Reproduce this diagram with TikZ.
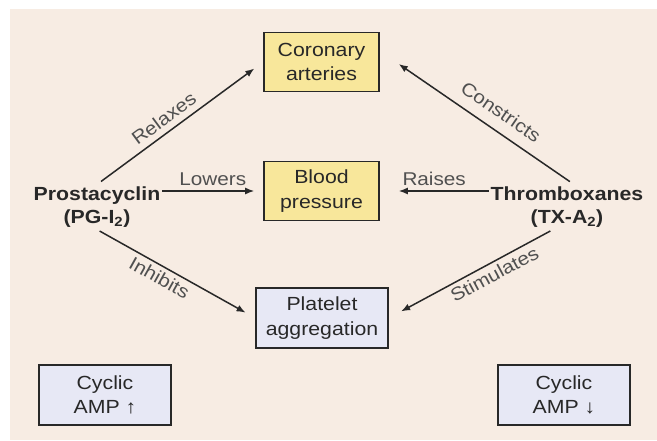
\documentclass[tikz,border=0pt]{standalone}
\usepackage{fontspec}
\setmainfont{Liberation Sans}[FakeStretch=1.12]
\usetikzlibrary{arrows.meta,positioning,calc}
\definecolor{bgbeige}{RGB}{247,236,227}
\definecolor{boxyellow}{RGB}{248,231,155}
\definecolor{boxlilac}{RGB}{231,232,245}
\definecolor{inkgray}{RGB}{40,40,40}
\definecolor{lblgray}{RGB}{80,80,80}

\begin{document}
\begin{tikzpicture}[x=1pt,y=-1pt,
  box/.style={draw=inkgray,line width=1.6pt,minimum width=115pt,minimum height=59pt,
              align=center,font=\fontsize{19}{24.5}\selectfont,text=inkgray},
  ybox/.style={box,fill=boxyellow},
  pbox/.style={box,fill=boxlilac,minimum width=132pt,minimum height=60pt},
  agent/.style={align=center,font=\bfseries\fontsize{19}{23}\selectfont,
                text=inkgray,inner sep=2pt},
  link/.style={draw=inkgray,line width=1.5pt,-{Latex[length=9pt,width=7pt]}},
  lbl/.style={font=\fontsize{18.5}{21}\selectfont,text=lblgray,inner sep=4pt}
]
  \useasboundingbox (0,0) rectangle (657,440);
  \fill[bgbeige] (10,9) rectangle (657,440);

  %% ---- targets (middle column) ----
  \node[ybox] (coronary) at (321.5,62)  {Coronary\\arteries};
  \node[ybox] (blood)    at (321.5,191) {Blood\\pressure};
  \node[pbox] (platelet) at (322,318)   {Platelet\\aggregation};

  %% ---- the two agents ----
  \node[agent] (prost)  at (97,207)  {Prostacyclin\\(PG-I\textsubscript{2})};
  \node[agent] (thromb) at (567,207) {Thromboxanes\\(TX-A\textsubscript{2})};

  %% ---- cyclic AMP (bottom corners) ----
  \node[pbox] (cycup)   at (105,395) {Cyclic\\AMP ↑};
  \node[pbox] (cycdown) at (564,395) {Cyclic\\AMP ↓};

  %% ---- effects ----
  % Prostacyclin side
  \draw[link,shorten <=5pt,shorten >=11pt] (prost.north) --
        node[lbl,sloped,above=2pt,pos=0.45]{Relaxes} (coronary.west);
  \draw[link,shorten >=9pt] (prost.east |- blood) --
        node[lbl,above=1pt]{Lowers} (blood.west);
  \draw[link,shorten <=3pt,shorten >=11pt] (prost.south) --
        node[lbl,sloped,below,pos=0.43]{Inhibits} (platelet.west);

  % Thromboxane side
  \draw[link,shorten <=5pt,shorten >=23pt] ($(thromb.north)+(7,0)$) --
        node[lbl,sloped,above=7pt,pos=0.43]{Constricts} ($(coronary.east)+(0,-11)$);
  \draw[link,shorten >=19pt] (thromb.west |- blood) --
        node[lbl,above=1pt]{Raises} (blood.east);
  \draw[link,shorten <=3pt,shorten >=14pt] ($(thromb.south)+(-14,0)$) --
        node[lbl,sloped,below,pos=0.39]{Stimulates} (platelet.east);
\end{tikzpicture}
\end{document}
